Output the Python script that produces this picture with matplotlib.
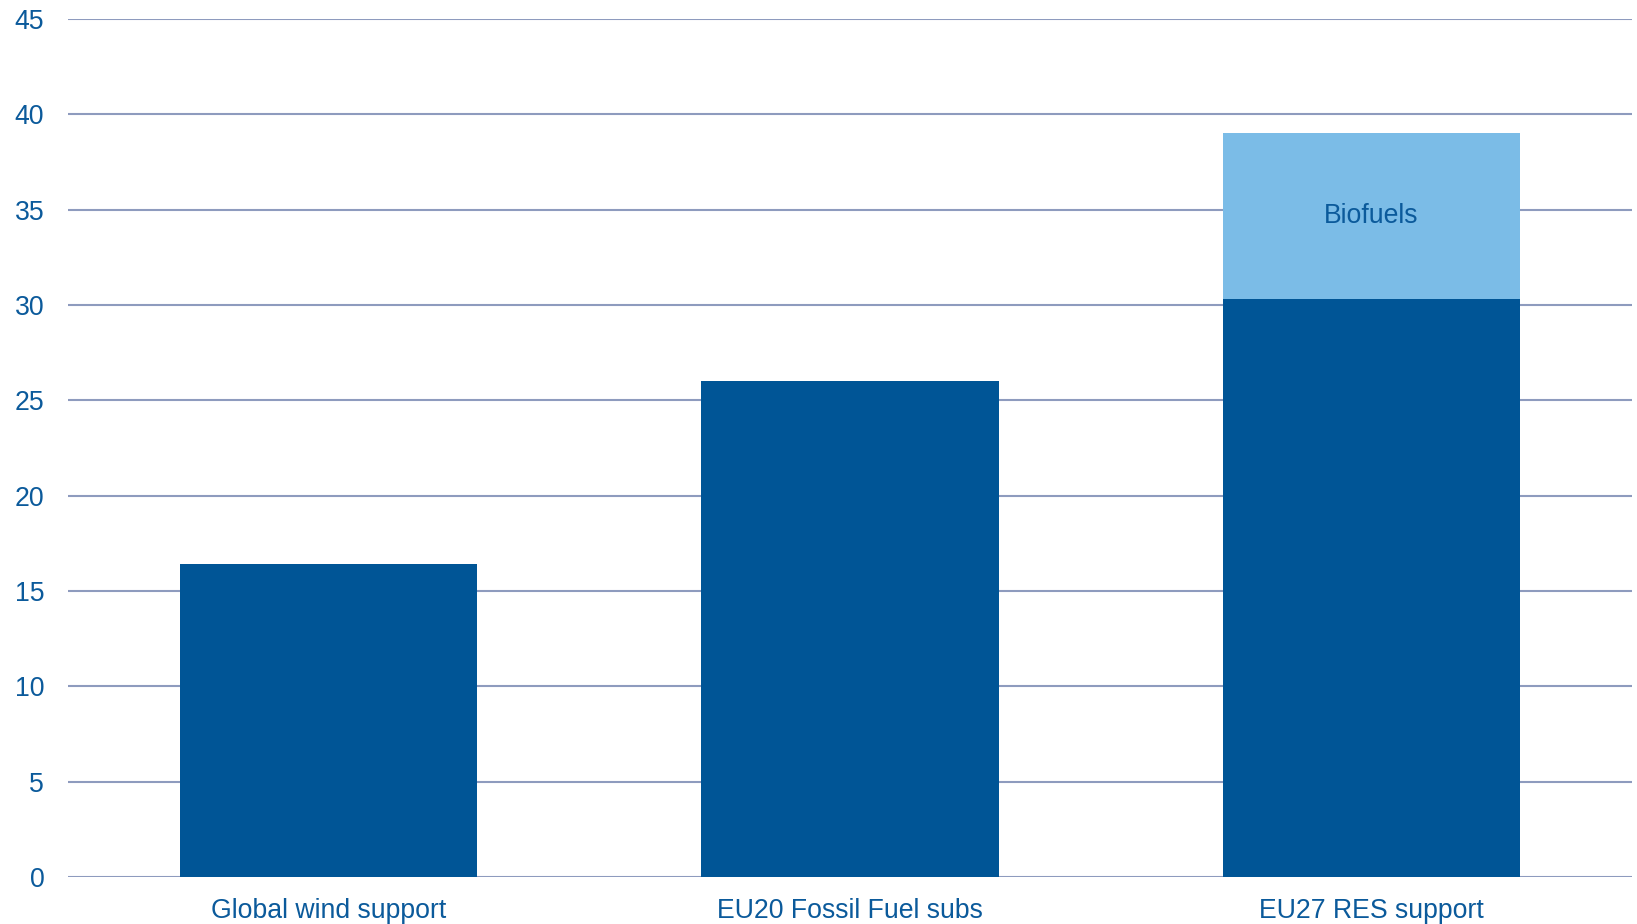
import matplotlib.pyplot as plt

plt.rcParams['font.family'] = ['Liberation Sans', 'DejaVu Sans']

categories = ['Global wind support', 'EU20 Fossil Fuel subs', 'EU27 RES support']
base_values = [16.4, 26.0, 30.3]
biofuels_values = [0, 0, 8.7]
y_ticks = [0, 5, 10, 15, 20, 25, 30, 35, 40, 45]

dark_blue = '#005596'
light_blue = '#7BBCE7'
text_blue = '#0B5A9B'
grid_col = '#8E9BBE'

fig = plt.figure(figsize=(16.37, 9.24), dpi=100)
ax = fig.add_axes([0.0415, 0.0509, 0.9555, 0.9285])

x = range(len(categories))
ax.bar(x, base_values, width=0.57, color=dark_blue, zorder=3)
ax.bar(x, biofuels_values, width=0.57, bottom=base_values, color=light_blue, zorder=3)

# label inside the biofuels segment
i = 2
ax.text(i, base_values[i] + biofuels_values[i] / 2, 'Biofuels', ha='center', va='center',
        fontsize=19.2, color=text_blue, zorder=4)

ax.set_xlim(-0.5, 2.5)
ax.set_ylim(0, 45)
ax.set_yticks(y_ticks)
ax.set_xticks(list(x))
ax.set_xticklabels(categories)
ax.yaxis.grid(True, color=grid_col, linewidth=1.5, zorder=0)
ax.set_axisbelow(True)
for s in ax.spines.values():
    s.set_visible(False)
ax.tick_params(axis='both', length=0, labelsize=19.2, labelcolor=text_blue)
ax.tick_params(axis='y', pad=17)
ax.tick_params(axis='x', pad=15)

fig.savefig('out.png', dpi=100)
